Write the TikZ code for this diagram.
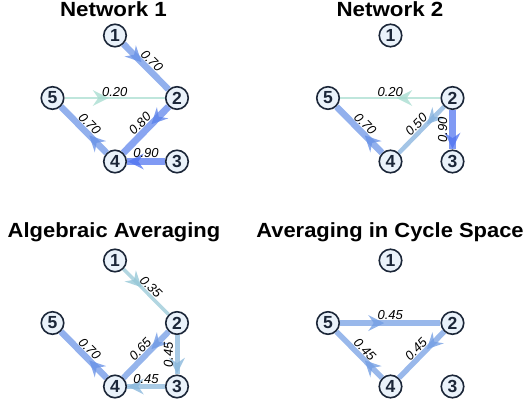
\documentclass[tikz,border=0pt]{standalone}
\usepackage{fontspec}
\setmainfont{Liberation Sans}
\usetikzlibrary{decorations.markings}

\definecolor{lowc}{HTML}{A6DCCF}
\definecolor{highc}{HTML}{4F73F0}
\definecolor{nodeline}{HTML}{1B2638}
\definecolor{nodefill}{HTML}{EAF2FA}

\tikzset{
  vtx/.style={circle, draw=nodeline, line width=1.6pt, fill=nodefill,
    minimum size=22.5pt, inner sep=0pt,
    font=\fontsize{17.5}{17.5}\selectfont\bfseries, text=nodeline},
  ttl/.style={font=\fontsize{20.5}{20.5}\selectfont\bfseries, anchor=base, inner sep=0pt},
  wlab/.style={font=\fontsize{13}{13}\selectfont\itshape, inner sep=0.5pt},
}

% weighted edge: from, to, colour mix, width, arrow position, label, label options
\newcommand\wedgeline[7]{%
  \draw[line width=#4, draw=highc!#3!lowc, draw opacity=0.72,
    postaction={decorate, decoration={markings, mark=at position #5 with
      {\fill[highc!#3!lowc, fill opacity=0.78] (0,0) -- (-16pt,8pt) -- (-10.5pt,0pt) -- (-16pt,-8pt) -- cycle;}}}]
    (#1) -- node[wlab, #7] {#6} (#2);
}

% five vertices of one panel, placed from a corner offset
\newcommand\panelnodes[3]{% prefix, dx, dy
  \node[vtx] (#1a) at (115+#2, 35.5+#3) {1};
  \node[vtx] (#1b) at (177+#2, 98+#3) {2};
  \node[vtx] (#1c) at (177+#2, 161.5+#3) {3};
  \node[vtx] (#1d) at (115+#2, 161.5+#3) {4};
  \node[vtx] (#1e) at (52.5+#2, 98+#3) {5};
}

\begin{document}
\begin{tikzpicture}[x=1pt, y=-1pt]
\useasboundingbox (0,0) rectangle (526,402);

% titles
\node[ttl] (t1) at (113.5,16) {\scalebox{1.09}[1]{Network 1}};
\node[ttl] (t2) at (390,16) {\scalebox{1.09}[1]{Network 2}};
\node[ttl] (t3) at (114,237) {\scalebox{1.07}[1]{Algebraic Averaging}};
\node[ttl] (t4) at (390,237) {\scalebox{1.07}[1]{Averaging in Cycle Space}};

% Network 1
\panelnodes{p}{0}{0}
\wedgeline{pa}{pb}{71}{6.5pt}{0.40}{0.70}{sloped, above}
\wedgeline{pe}{pb}{0}{2pt}{0.44}{0.20}{sloped, above}
\wedgeline{pb}{pd}{86}{7pt}{0.38}{0.80}{sloped, above}
\wedgeline{pd}{pe}{71}{6.5pt}{0.38}{0.70}{sloped, above}
\wedgeline{pc}{pd}{100}{7.5pt}{0.98}{0.90}{sloped, above}

% Network 2
\panelnodes{q}{275.5}{0}
\wedgeline{qb}{qe}{0}{2pt}{0.44}{0.20}{sloped, above}
\wedgeline{qb}{qd}{43}{4.5pt}{0.38}{0.50}{sloped, above}
\wedgeline{qd}{qe}{71}{6.5pt}{0.38}{0.70}{sloped, above}
\wedgeline{qb}{qc}{100}{7.5pt}{0.98}{0.90}{rotate=90, above=1pt}

% Algebraic averaging
\panelnodes{r}{0}{225}
\wedgeline{ra}{rb}{21}{3.5pt}{0.40}{0.35}{sloped, above}
\wedgeline{rb}{rd}{64}{6pt}{0.38}{0.65}{sloped, above}
\wedgeline{rd}{re}{71}{6.5pt}{0.38}{0.70}{sloped, above}
\wedgeline{rb}{rc}{36}{5pt}{0.98}{0.45}{rotate=90, above=1pt}
\wedgeline{rc}{rd}{36}{5pt}{0.98}{0.45}{sloped, above}

% Averaging in cycle space
\panelnodes{s}{275.5}{225}
\wedgeline{se}{sb}{60}{5.5pt}{0.44}{0.45}{sloped, above}
\wedgeline{sb}{sd}{60}{5.5pt}{0.38}{0.45}{sloped, above}
\wedgeline{sd}{se}{60}{5.5pt}{0.38}{0.45}{sloped, above}
\end{tikzpicture}
\end{document}
